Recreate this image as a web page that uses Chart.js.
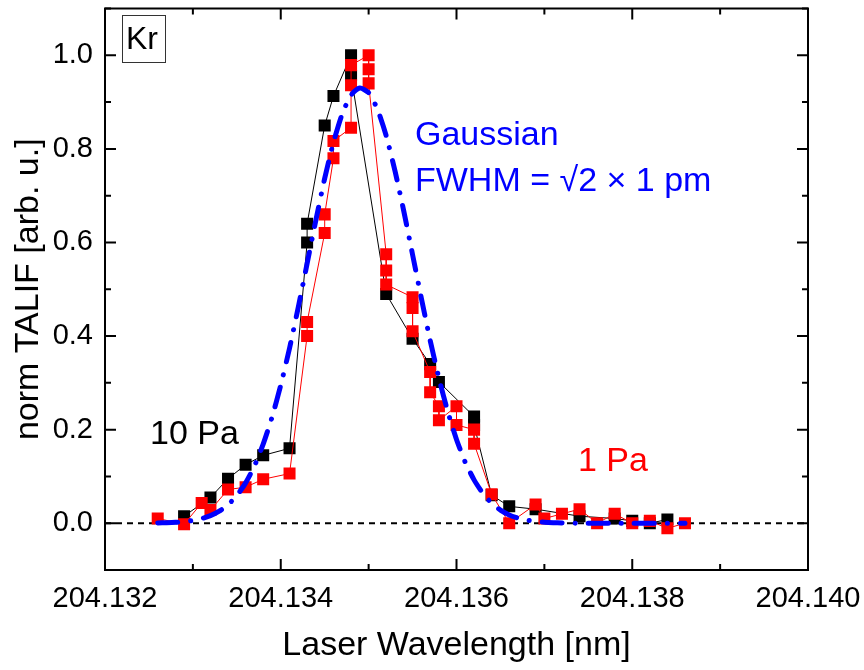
<!DOCTYPE html>
<html>
<head>
<meta charset="utf-8">
<script src="https://cdn.jsdelivr.net/npm/chart.js@4"></script>
<style>
  html, body { margin: 0; padding: 0; background: #fff; }
  #wrap { width: 864px; height: 670px; }
</style>
</head>
<body>
<div id="wrap"><canvas id="talifChart" width="864" height="670"></canvas></div>
<script>
// 10 Pa scan (black)
var x10 = [204.1329, 204.1332, 204.1334, 204.1336, 204.1338, 204.1341, 204.1343, 204.1343, 204.1345, 204.1346, 204.1348, 204.1348,
           204.1352, 204.1355, 204.1357, 204.1358, 204.1362, 204.1362, 204.1364, 204.1366, 204.1369, 204.1374, 204.1378, 204.1380, 204.1382, 204.1384];
var y10 = [0.015, 0.055, 0.095, 0.125, 0.145, 0.160, 0.600, 0.640, 0.850, 0.913, 1.000, 0.957,
           0.490, 0.394, 0.340, 0.302, 0.228, 0.210, 0.060, 0.036, 0.030, 0.015, 0.010, 0.005, 0.000, 0.008];

// 1 Pa scan (red)
var x1 = [204.1326, 204.1329, 204.1331, 204.1332, 204.1334, 204.1336, 204.1338, 204.1341, 204.1343, 204.1343,
          204.1345, 204.1345, 204.1346, 204.1346, 204.1348, 204.1348, 204.1348, 204.1350, 204.1350, 204.1350,
          204.1352, 204.1352, 204.1352, 204.1355, 204.1355, 204.1355, 204.1357, 204.1357, 204.1358, 204.1358,
          204.1360, 204.1360, 204.1362, 204.1362, 204.1364, 204.1366, 204.1369, 204.1370, 204.1372, 204.1374,
          204.1376, 204.1378, 204.1380, 204.1382, 204.1384, 204.1386];
var y1 = [0.010, -0.002, 0.043, 0.028, 0.072, 0.077, 0.094, 0.106, 0.400, 0.430,
          0.620, 0.660, 0.780, 0.817, 0.845, 0.936, 0.979, 1.000, 0.970, 0.940,
          0.575, 0.540, 0.510, 0.483, 0.460, 0.410, 0.323, 0.280, 0.250, 0.220,
          0.250, 0.210, 0.200, 0.170, 0.062, 0.000, 0.040, 0.010, 0.020, 0.030,
          0.000, 0.020, 0.000, 0.005, -0.011, 0.000];

// Gaussian curve
var xGauss = [204.1326, 204.1327, 204.1328, 204.1329, 204.1330, 204.1331, 204.1332, 204.1333, 204.1334, 204.1335,
              204.1336, 204.1337, 204.1338, 204.1339, 204.1340, 204.1341, 204.1342, 204.1343, 204.1344, 204.1345,
              204.1346, 204.1347, 204.1348, 204.1349, 204.1350, 204.1351, 204.1352, 204.1353, 204.1354, 204.1355,
              204.1356, 204.1357, 204.1358, 204.1359, 204.1360, 204.1361, 204.1362, 204.1363, 204.1364, 204.1365,
              204.1366, 204.1367, 204.1368, 204.1369, 204.1370, 204.1371, 204.1372, 204.1374, 204.1376, 204.1378,
              204.1380, 204.1382, 204.1384, 204.1386];
var yGauss = [0.0006, 0.0011, 0.0019, 0.0034, 0.0059, 0.0099, 0.0161, 0.0256, 0.0394, 0.0590,
              0.0862, 0.122, 0.169, 0.226, 0.295, 0.374, 0.462, 0.555, 0.648, 0.737,
              0.814, 0.875, 0.915, 0.930, 0.920, 0.885, 0.828, 0.753, 0.667, 0.574,
              0.481, 0.391, 0.310, 0.239, 0.179, 0.130, 0.0926, 0.0638, 0.0428, 0.0279,
              0.0177, 0.0109, 0.0066, 0.0038, 0.0022, 0.0012, 0.0006, 0, 0, 0,
              0, 0, 0, 0];

var xTicks = [204.132, 204.134, 204.136, 204.138, 204.140];
var xMinor = [204.133, 204.135, 204.137, 204.139];
var yTicks = [0.0, 0.2, 0.4, 0.6, 0.8, 1.0];
var yMinor = [-0.1, 0.1, 0.3, 0.5, 0.7, 0.9, 1.1];

var FONT = "'Liberation Sans', Arial, sans-serif";

function pts(xs, ys) {
    return xs.map(function (x, i) { return { x: x, y: ys[i] }; });
}

// frame with inward ticks on all four sides
var framePlugin = {
    id: "frame",
    afterDraw: function (chart) {
        var ctx = chart.ctx, a = chart.chartArea;
        var xs = chart.scales.x, ys = chart.scales.y;
        ctx.save();
        ctx.strokeStyle = "#000";
        ctx.lineWidth = 2;
        ctx.strokeRect(a.left, a.top, a.right - a.left, a.bottom - a.top);
        ctx.beginPath();
        function xt(v, len) {
            var px = xs.getPixelForValue(v);
            ctx.moveTo(px, a.bottom); ctx.lineTo(px, a.bottom - len);
            ctx.moveTo(px, a.top); ctx.lineTo(px, a.top + len);
        }
        function yt(v, len) {
            var py = ys.getPixelForValue(v);
            ctx.moveTo(a.left, py); ctx.lineTo(a.left + len, py);
            ctx.moveTo(a.right, py); ctx.lineTo(a.right - len, py);
        }
        xTicks.forEach(function (v) { xt(v, 11); });
        xMinor.forEach(function (v) { xt(v, 6); });
        yTicks.forEach(function (v) { yt(v, 11); });
        yMinor.forEach(function (v) { yt(v, 6); });
        ctx.stroke();
        ctx.restore();
    }
};

// labels inside the plot
var labelPlugin = {
    id: "labels",
    afterDatasetsDraw: function (chart) {
        var ctx = chart.ctx;
        ctx.save();
        ctx.textBaseline = "middle";
        ctx.textAlign = "left";

        ctx.strokeStyle = "#333";
        ctx.lineWidth = 1;
        ctx.strokeRect(122.5, 15.5, 43, 47);
        ctx.fillStyle = "#000";
        ctx.font = "32px " + FONT;
        ctx.fillText("Kr", 126, 40);

        ctx.font = "34px " + FONT;
        ctx.fillStyle = "#0000ff";
        ctx.fillText("Gaussian", 415, 136);
        ctx.fillText("FWHM = \u221A2 \u00D7 1 pm", 415, 182);

        ctx.fillStyle = "#000";
        ctx.fillText("10 Pa", 150, 435);
        ctx.fillStyle = "#ff0000";
        ctx.fillText("1 Pa", 578, 462);
        ctx.restore();
    }
};

var ctx = document.getElementById("talifChart").getContext("2d");
new Chart(ctx, {
    type: "line",
    data: {
        datasets: [
            {
                label: "Gaussian",
                data: pts(xGauss, yGauss),
                borderColor: "#0000ff",
                borderWidth: 5,
                borderDash: [20, 13, 0.1, 13],
                borderCapStyle: "round",
                pointRadius: 0,
                tension: 0.2,
                order: 0
            },
            {
                label: "1 Pa",
                data: pts(x1, y1),
                borderColor: "#ff0000",
                borderWidth: 1,
                backgroundColor: "#ff0000",
                pointStyle: "rect",
                pointRadius: 8.5,
                pointBorderWidth: 0,
                order: 1
            },
            {
                label: "10 Pa",
                data: pts(x10, y10),
                borderColor: "#000",
                borderWidth: 1,
                backgroundColor: "#000",
                pointStyle: "rect",
                pointRadius: 8.5,
                pointBorderWidth: 0,
                order: 2
            },
            {
                label: "zero",
                data: pts([204.132, 204.140], [0, 0]),
                borderColor: "#000",
                borderWidth: 2,
                borderDash: [6, 5],
                pointRadius: 0,
                order: 3
            }
        ]
    },
    options: {
        responsive: false,
        animation: false,
        layout: { padding: { left: 0, right: 56, top: 5, bottom: 0 } },
        plugins: {
            legend: { display: false },
            tooltip: { enabled: false }
        },
        scales: {
            x: {
                type: "linear",
                min: 204.132,
                max: 204.140,
                grid: { display: false, drawTicks: false },
                border: { display: false },
                afterBuildTicks: function (s) { s.ticks = xTicks.map(function (v) { return { value: v }; }); },
                afterFit: function (s) { s.height = 100; s.paddingLeft = 0; s.paddingRight = 0; },
                ticks: {
                    padding: 12,
                    color: "#000",
                    maxRotation: 0,
                    font: { family: FONT, size: 29 },
                    callback: function (v) { return v.toFixed(3); }
                },
                title: {
                    display: true,
                    text: "Laser Wavelength [nm]",
                    color: "#000",
                    font: { family: FONT, size: 34 },
                    padding: { top: 0, bottom: 4 }
                }
            },
            y: {
                type: "linear",
                min: -0.1,
                max: 1.1,
                grid: { display: false, drawTicks: false },
                border: { display: false },
                afterBuildTicks: function (s) { s.ticks = yTicks.map(function (v) { return { value: v }; }); },
                afterFit: function (s) { s.width = 105; s.paddingTop = 0; s.paddingBottom = 0; },
                ticks: {
                    padding: 12,
                    color: "#000",
                    font: { family: FONT, size: 29 },
                    callback: function (v) { return v.toFixed(1); }
                },
                title: {
                    display: true,
                    text: "norm TALIF [arb. u.]",
                    color: "#000",
                    font: { family: FONT, size: 34 },
                    padding: { top: 8, bottom: 0 }
                }
            }
        }
    },
    plugins: [framePlugin, labelPlugin]
});
</script>
</body>
</html>
